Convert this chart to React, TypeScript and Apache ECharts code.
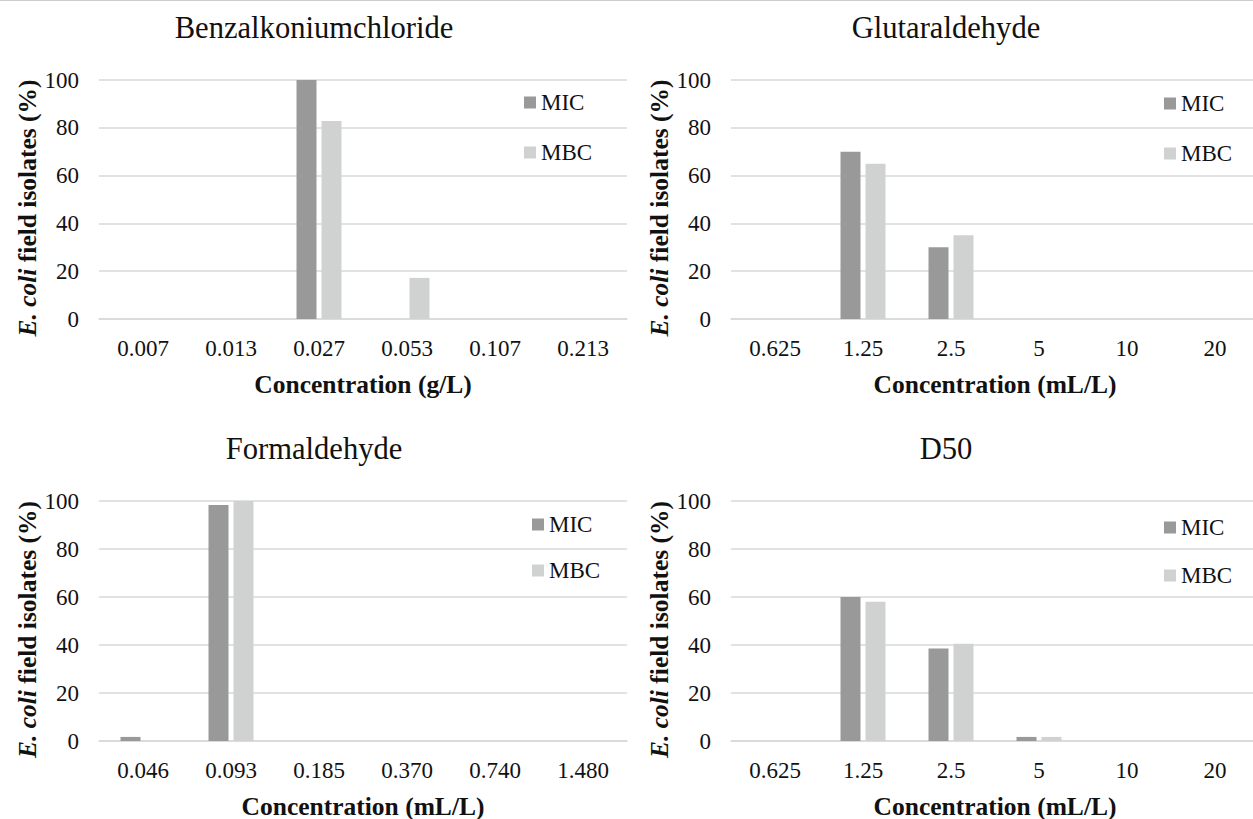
import React, { useEffect, useRef } from "react";
import * as echarts from "echarts";

// ---- Data ----
const benzCategories = ["0.007", "0.013", "0.027", "0.053", "0.107", "0.213"];
const benzMIC = [0, 0, 100, 0, 0, 0];
const benzMBC = [0, 0, 82.8, 17.2, 0, 0];

const glutCategories = ["0.625", "1.25", "2.5", "5", "10", "20"];
const glutMIC = [0, 70, 30, 0, 0, 0];
const glutMBC = [0, 65, 35, 0, 0, 0];

const formCategories = ["0.046", "0.093", "0.185", "0.370", "0.740", "1.480"];
const formMIC = [1.7, 98.3, 0, 0, 0, 0];
const formMBC = [0, 100, 0, 0, 0, 0];

const d50Categories = ["0.625", "1.25", "2.5", "5", "10", "20"];
const d50MIC = [0, 60, 38.5, 1.7, 0, 0];
const d50MBC = [0, 58, 40.5, 1.7, 0, 0];

const seriesNames = ["MIC", "MBC"];
const yMin = 0;
const yMax = 100;
const yInterval = 20;

const panels = [
  { title: "Benzalkoniumchloride", cats: benzCategories, mic: benzMIC, mbc: benzMBC, unit: "Concentration (g/L)" },
  { title: "Glutaraldehyde", cats: glutCategories, mic: glutMIC, mbc: glutMBC, unit: "Concentration (mL/L)" },
  { title: "Formaldehyde", cats: formCategories, mic: formMIC, mbc: formMBC, unit: "Concentration (mL/L)" },
  { title: "D50", cats: d50Categories, mic: d50MIC, mbc: d50MBC, unit: "Concentration (mL/L)" },
];

// ---- Layout / style ----
const FONT = "'Liberation Serif', 'Times New Roman', serif";
const TEXT = "#111111";
const GRIDC = "#d9d9d9";
const MICC = "#999999";
const MBCC = "#d0d1d1";

const layouts = [
  { left: 99, top: 80, titleX: 314, titleY: 28, legendLeft: 524, legendTop: 91, legendGap: 27 },
  { left: 731, top: 80, titleX: 946, titleY: 28, legendLeft: 1164, legendTop: 92, legendGap: 27 },
  { left: 99, top: 501, titleX: 314, titleY: 449, legendLeft: 532, legendTop: 513, legendGap: 23 },
  { left: 731, top: 501, titleX: 946, titleY: 449, legendLeft: 1164, legendTop: 516, legendGap: 25 },
];

export default function App() {
  const ref = useRef<HTMLDivElement>(null);

  useEffect(() => {
    if (!ref.current) return;
    const chart = echarts.init(ref.current, undefined, { renderer: "svg" });

    const grid: any[] = [];
    const xAxis: any[] = [];
    const yAxis: any[] = [];
    const series: any[] = [];
    const legend: any[] = [];
    const graphic: any[] = [
      {
        type: "line",
        shape: { x1: 0, y1: 0.5, x2: 1253, y2: 0.5 },
        style: { stroke: "#cccccc", lineWidth: 1 },
        silent: true,
      },
    ];

    panels.forEach((p, i) => {
      const L = layouts[i];
      grid.push({
        left: L.left,
        top: L.top,
        width: 528,
        height: i < 2 ? 239 : 240,
        containLabel: false,
        outerBoundsMode: "none",
      });
      xAxis.push({
        type: "category",
        gridIndex: i,
        data: p.cats,
        axisTick: { show: false },
        axisLine: { show: true, lineStyle: { color: GRIDC, width: 1.5 } },
        axisLabel: { margin: 18, fontSize: 23, fontFamily: FONT, color: TEXT, interval: 0 },
        name: p.unit,
        nameLocation: "middle",
        nameGap: 52,
        nameTextStyle: { fontSize: 25.5, lineHeight: 26, fontFamily: FONT, fontWeight: "bold", color: TEXT },
      });
      yAxis.push({
        type: "value",
        gridIndex: i,
        min: yMin,
        max: yMax,
        interval: yInterval,
        axisLine: { show: false },
        axisTick: { show: false },
        splitLine: { show: true, lineStyle: { color: GRIDC, width: 1.5 } },
        axisLabel: { margin: 20, fontSize: 23, fontFamily: FONT, color: TEXT },
        name: "{i|E. coli} field isolates (%)",
        nameLocation: "middle",
        nameGap: 54,
        nameTextStyle: {
          fontSize: 25.5,
          fontFamily: FONT,
          fontWeight: "bold",
          color: TEXT,
          padding: [0, 17, 0, 0],
          rich: {
            i: { fontSize: 25.5, fontFamily: FONT, fontWeight: "bold", fontStyle: "italic", color: TEXT },
          },
        },
      });
      series.push({
        type: "bar",
        name: seriesNames[0],
        xAxisIndex: i,
        yAxisIndex: i,
        data: p.mic,
        barWidth: 20,
        barGap: "25%",
        itemStyle: { color: MICC },
      });
      series.push({
        type: "bar",
        name: seriesNames[1],
        xAxisIndex: i,
        yAxisIndex: i,
        data: p.mbc,
        barWidth: 20,
        barGap: "25%",
        itemStyle: { color: MBCC },
      });
      legend.push({
        data: seriesNames,
        orient: "vertical",
        left: L.legendLeft,
        top: L.legendTop,
        itemGap: L.legendGap,
        itemWidth: 12,
        itemHeight: 12,
        icon: "rect",
        padding: 0,
        selectedMode: false,
        textStyle: { fontSize: 23, fontFamily: FONT, color: TEXT, padding: [0, 0, 0, 0] },
      });
      graphic.push({
        type: "text",
        x: L.titleX,
        y: L.titleY,
        style: {
          text: p.title,
          fontSize: 30.6,
          fontFamily: FONT,
          fill: TEXT,
          textAlign: "center",
          textVerticalAlign: "middle",
        },
        silent: true,
      });
    });

    chart.setOption({
      animation: false,
      backgroundColor: "#ffffff",
      grid,
      xAxis,
      yAxis,
      series,
      legend,
      graphic,
    });

    return () => {
      chart.dispose();
    };
  }, []);

  return (
    <div
      ref={ref}
      style={{ position: "absolute", left: 0, top: 0, width: 1253, height: 819, background: "#fff" }}
    />
  );
}
